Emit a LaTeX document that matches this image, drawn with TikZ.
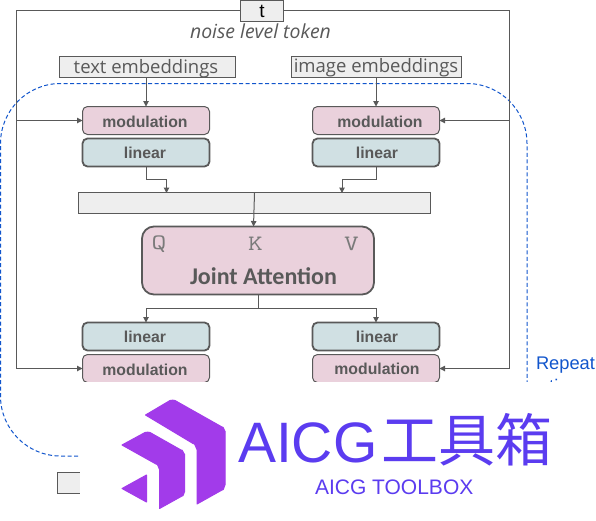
\documentclass[tikz,border=0pt]{standalone}
\usepackage{fontspec}
\setmainfont{Open Sans}
\newfontfamily\arialf{Liberation Sans}
\newfontfamily\carl{Carlito}
\newfontfamily\cjk{Noto Sans CJK SC}
\definecolor{ln}{HTML}{595959}
\definecolor{qkvc}{HTML}{7A7A7A}
\definecolor{pinkb}{HTML}{EAD1DC}
\definecolor{tealb}{HTML}{D0E0E3}
\definecolor{greyb}{HTML}{EEEEEE}
\definecolor{blued}{HTML}{1155CC}
\definecolor{logop}{HTML}{A23BEA}
\definecolor{logot}{HTML}{5B3CF0}
\usetikzlibrary{arrows.meta}
\tikzset{
 x=1pt,y=-1pt,
 every node/.style={inner sep=0,outer sep=0},
 arr/.style={draw=ln,line width=1pt,-{Triangle[length=5.5pt,width=5.5pt]}},
 wire/.style={draw=ln,line width=1pt},
 greybox/.style={draw=ln,fill=greyb,line width=1pt},
 modbox/.style={draw=ln,fill=pinkb,line width=1pt,rounded corners=5pt,minimum width=127pt,minimum height=28pt},
 linbox/.style={draw=ln,fill=tealb,line width=1.8pt,rounded corners=5pt,minimum width=127pt,minimum height=28pt},
 boxlabel/.style={text=ln,font=\arialf\bfseries\fontsize{15.8}{18}\selectfont},
 txt/.style={text=ln,font=\fontsize{18.5}{22}\selectfont},
 qkv/.style={text=qkvc,font=\ttfamily\fontsize{22}{24}\selectfont,xscale=1.3,transform shape},
 logo/.style={fill=logop,draw=logop,line width=1pt,line join=round},
}
\begin{document}
\begin{tikzpicture}
\useasboundingbox (0,0) rectangle (596,520);
% blue repeat frame
\draw[blued,line width=1pt,dash pattern=on 4pt off 2.5pt,rounded corners=60pt] (78,456) -- (0.5,456) -- (0.5,83.5) -- (527,83.5) -- (527,382);
% outer t loop
\node[greybox,minimum width=43pt,minimum height=21pt] (t) at (262,11) {};
\node[font=\arialf\fontsize{19}{20}\selectfont,text=black] (tl) at (262,11) {t};
\coordinate (ltop) at (16.5,10.5);
\coordinate (rtop) at (509.5,10.5);
\coordinate (lm1) at (16.5,120.5);
\coordinate (lm2) at (16.5,368.5);
\coordinate (rm1) at (509.5,120.5);
\coordinate (rm2) at (509.5,368.5);
\node[text=ln,font=\itshape\fontsize{19.4}{22}\selectfont] (nl) at (260.5,31) {noise level token};
\node[greybox,minimum width=176pt,minimum height=21pt] (te) at (147,67) {};
\node[txt] (tet) at (146,68.5) {text embeddings};
\node[greybox,minimum width=170pt,minimum height=21pt] (ie) at (376,67) {};
\node[txt] (iet) at (376,68) {image embeddings};
\node[modbox] (m1) at (146,120.5) {};
\node[boxlabel] (m1t) at (145,121.5) {modulation};
\node[linbox] (l1) at (146,152.5) {};
\node[boxlabel] (l1t) at (145,152.5) {linear};
\node[modbox] (m2) at (376,120.5) {};
\node[boxlabel] (m2t) at (380,121.5) {modulation};
\node[linbox] (l2) at (376,152.5) {};
\node[boxlabel] (l2t) at (377,152.5) {linear};
\node[greybox,minimum width=352pt,minimum height=21pt] (bar) at (254.5,203) {};
\node[draw=ln,fill=pinkb,line width=1.8pt,rounded corners=12pt,minimum width=232pt,minimum height=68pt] (ja) at (258,260.5) {};
\node[qkv] (q) at (159,244) {Q};
\node[qkv] (k) at (255.5,244) {K};
\node[qkv] (v) at (351.5,244) {V};
\node[text=ln,font=\carl\bfseries\fontsize{24}{26}\selectfont] (jt) at (263.5,276.5) {Joint Attention};
\node[linbox] (l3) at (146,336.5) {};
\node[boxlabel] (l3t) at (145,336.5) {linear};
\node[linbox] (l4) at (376,336.5) {};
\node[boxlabel] (l4t) at (377,336.5) {linear};
\node[modbox] (m3) at (146,368.5) {};
\node[boxlabel] (m3t) at (145,369.5) {modulation};
\node[modbox] (m4) at (376,368.5) {};
\node[boxlabel] (m4t) at (377,369) {modulation};
\draw[wire] (t.west |- ltop) -- (ltop) -- (lm1) -- (lm2);
\draw[wire] (t.east |- rtop) -- (rtop) -- (rm1) -- (rm2);
\draw[arr] (lm1) -- (m1.west);
\draw[arr] (lm2) -- (m3.west);
\draw[arr] (rm1) -- (m2.east);
\draw[arr] (rm2) -- (m4.east);
\draw[arr] (te.south -| m1) -- (m1.north);
\draw[arr] (ie.south -| m2) -- (m2.north);
\coordinate (b1) at (166.5,193);
\coordinate (b2) at (342,193);
\draw[arr] (l1.south) -- ++(0,13) -| (b1);
\draw[arr] (l2.south) -- ++(0,13) -| (b2);
\coordinate (ka) at (253.5,226.5);
\draw[arr] (254.5,193) -- (ka);
\coordinate (jo) at (258.5,308);
\draw[wire] (jo |- ja.south) -- (jo);
\draw[arr] (jo) -| (l3.north);
\draw[arr] (jo) -| (l4.north);
\node[text=blued,font=\arialf\fontsize{18.3}{20}\selectfont,anchor=base west] (rep) at (536,369.5) {Repeat};
\node[text=blued,font=\arialf\fontsize{18.3}{20}\selectfont,anchor=base west] (xt) at (535,392.5) {x times};
% white cover
\fill[white] (80,382) rectangle (596,520);
\node[greybox,minimum width=23pt,minimum height=21pt] (g) at (68.5,482.5) {};
\fill[white] (80,465) rectangle (100,500);
% logo
\fill[logo] (145.5,415) -- (170,400.5) to[out=0,in=150] (175,400.5) -- (222,427) to[out=50,in=-90] (225,431) -- (225,485) to[out=90,in=-40] (222,490) -- (197,504) -- (197,449) to[out=-90,in=35] (193,443.5) -- cycle;
\fill[logo] (122,445) -- (145,432.5) to[out=0,in=150] (150,432.5) -- (181,450) to[out=50,in=-90] (184.5,454) -- (184.5,492) to[out=90,in=-40] (182,496) -- (159.5,508.5) -- (159.5,469) to[out=-90,in=35] (156,464) -- cycle;
\fill[logo] (122,488.5) -- (146.5,475) -- (146.5,502) -- cycle;
\node[text=logot,font=\arialf\fontsize{57}{60}\selectfont,anchor=base west] (aicg) at (238,462) {AICG};
\node[text=logot,font=\cjk\fontsize{57}{60}\selectfont,anchor=base west] (cn) at (381,461) {工具箱};
\node[text=logot,font=\arialf\fontsize{21}{24}\selectfont,anchor=base west] (tb) at (315,494.5) {AICG TOOLBOX};
\end{tikzpicture}
\end{document}
